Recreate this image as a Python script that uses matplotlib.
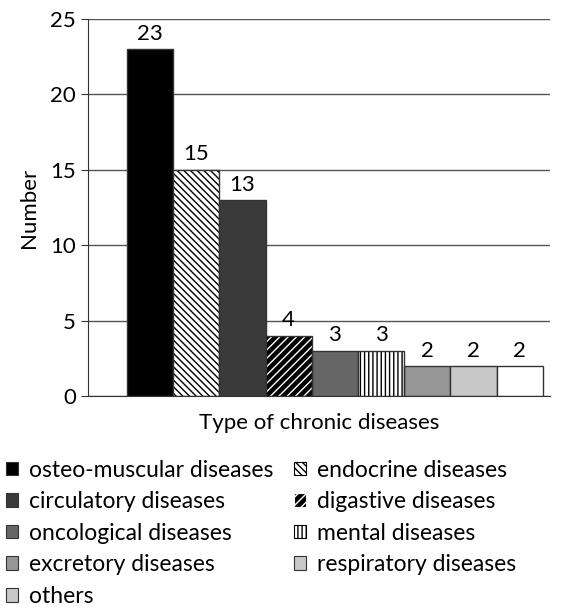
import numpy as np
import matplotlib.pyplot as plt
from matplotlib.patches import Patch

plt.rcParams['font.family'] = ['Lato', 'DejaVu Sans']

categories = ['osteo-muscular diseases', 'endocrine diseases', 'circulatory diseases',
              'digastive diseases', 'oncological diseases', 'mental diseases',
              'excretory diseases', 'respiratory diseases', 'others']
counts = [23, 15, 13, 4, 3, 3, 2, 2, 2]
faces = ['#000000', '#ffffff', '#3a3a3a', '#000000', '#666666', '#ffffff',
         '#969696', '#c8c8c8', '#ffffff']
hatches = [None, '\\\\\\\\\\', None, '////', None, '||||', None, None, None]
hatch_cols = [None, '#000000', None, '#ffffff', None, '#000000', None, None, None]
legend_faces = ['#000000', '#ffffff', '#3a3a3a', '#000000', '#666666', '#ffffff',
                '#969696', '#c8c8c8', '#c8c8c8']
edge = '#333333'

fig = plt.figure(figsize=(5.74, 6.12), dpi=100)
ax = fig.add_axes([0.153, 0.353, 0.805, 0.616])

x = np.arange(len(counts))
ax.set_axisbelow(True)
ax.yaxis.grid(True, color='#555555', lw=1)

for i, (v, fc, h, hc) in enumerate(zip(counts, faces, hatches, hatch_cols)):
    if h:
        ax.bar(x[i], v, width=1.0, color=fc, edgecolor=hc, hatch=h, lw=0, zorder=2)
        ax.bar(x[i], v, width=1.0, fill=False, edgecolor=edge, lw=1, zorder=3)
    else:
        ax.bar(x[i], v, width=1.0, color=fc, edgecolor=edge, lw=1, zorder=2)
    ax.text(x[i], v + 0.35, str(v), ha='center', va='bottom', fontsize=16)

ax.set_xlim(-1.344, 8.65)
ax.set_ylim(0, 25)
ax.set_yticks([0, 5, 10, 15, 20, 25])
ax.set_xticks([])
ax.tick_params(axis='y', labelsize=16, length=5, color='#333333')
for s in ['top', 'right']:
    ax.spines[s].set_visible(False)
ax.spines['left'].set_color('#333333')
ax.spines['bottom'].set_color('#333333')
ax.set_ylabel('Number', fontsize=16, labelpad=8)
ax.set_xlabel('Type of chronic diseases', fontsize=16, labelpad=12)

handles = []
for i in range(len(categories)):
    handles.append(Patch(facecolor=legend_faces[i],
                         edgecolor=hatch_cols[i] if hatches[i] else edge,
                         hatch=hatches[i], lw=0.8, label=categories[i]))
order = [0, 2, 4, 6, 8, 1, 3, 5, 7]
fig.legend([handles[i] for i in order], [categories[i] for i in order],
           loc='upper left', bbox_to_anchor=(0.01, 0.249), ncol=2, frameon=False,
           fontsize=16.5, handlelength=0.55, handleheight=0.55, handletextpad=0.45,
           columnspacing=0.9, labelspacing=0.46, borderpad=0, borderaxespad=0)

fig.savefig('out.png', dpi=100)
